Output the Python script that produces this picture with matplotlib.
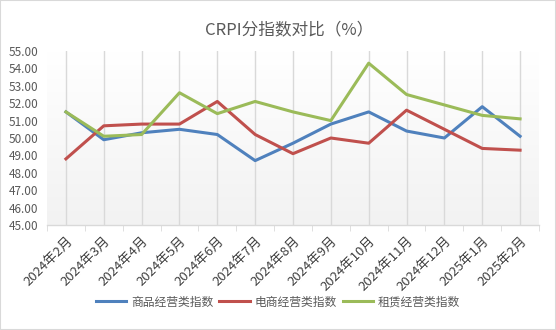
import matplotlib
matplotlib.use("Agg")
import matplotlib.pyplot as plt
import numpy as np
from matplotlib.patches import Rectangle

plt.rcParams['font.family'] = ['Noto Sans CJK SC', 'DejaVu Sans']

months = ["2024年2月", "2024年3月", "2024年4月", "2024年5月", "2024年6月", "2024年7月",
          "2024年8月", "2024年9月", "2024年10月", "2024年11月", "2024年12月",
          "2025年1月", "2025年2月"]
goods = [51.5, 49.9, 50.3, 50.5, 50.2, 48.7, 49.7, 50.8, 51.5, 50.4, 50.0, 51.8, 50.1]
ecom = [48.8, 50.7, 50.8, 50.8, 52.1, 50.2, 49.1, 50.0, 49.7, 51.6, 50.5, 49.4, 49.3]
lease = [51.5, 50.1, 50.2, 52.6, 51.4, 52.1, 51.5, 51.0, 54.3, 52.5, 51.9, 51.3, 51.1]

fig = plt.figure(figsize=(5.56, 3.3), dpi=100)
ax = fig.add_axes([47/556, 1-225/330, 492/556, 174/330])
fig.patches.append(Rectangle((0, 0), 1, 1, transform=fig.transFigure,
                             fill=False, edgecolor='#d9d9d9', lw=1.5))

x = np.arange(len(months))
ax.set_xlim(-0.5, len(months) - 0.5)
ax.set_ylim(45, 55)

# gradient background
grad = np.linspace(0, 1, 100).reshape(-1, 1)
ax.imshow(grad, cmap=matplotlib.colors.LinearSegmentedColormap.from_list('g', ['#f2f2f2', '#ffffff']),
          extent=[-0.5, len(months) - 0.5, 45, 55], origin='lower', aspect='auto', zorder=0)

for xi in x:
    ax.axvline(xi, color='#d9d9d9', lw=1, zorder=1)

ax.plot(x, goods, color='#4f81bd', lw=2.2, label='商品经营类指数', zorder=3)
ax.plot(x, ecom, color='#c0504d', lw=2.2, label='电商经营类指数', zorder=3)
ax.plot(x, lease, color='#9bbb59', lw=2.2, label='租赁经营类指数', zorder=3)

for s in ['top', 'right', 'left']:
    ax.spines[s].set_visible(False)
ax.spines['bottom'].set_color('#d9d9d9')
ax.spines['bottom'].set_linewidth(1)

ax.set_yticks(np.arange(45, 55.5, 1))
ax.set_yticklabels(["%.2f" % v for v in np.arange(45, 55.5, 1)], fontsize=8.5, color='#595959')
ax.tick_params(axis='y', length=0, pad=6)

ax.set_xticks(x)
ax.set_xticklabels(months, rotation=45, ha='right', rotation_mode='anchor',
                   fontsize=9.5, color='#404040')
ax.tick_params(axis='x', length=0, pad=7)
ax.set_xticks(np.arange(-0.5, len(months), 1), minor=True)
ax.tick_params(axis='x', which='minor', length=4, color='#d9d9d9', direction='out')

fig.text(0.52, 1-30/330, 'CRPI分指数对比（%）', ha='center', va='center',
         fontsize=12, color='#595959')

fig.legend(loc='center', bbox_to_anchor=(0.5, 1-302/330), ncol=3, frameon=False,
           fontsize=8.5, handlelength=2.6, columnspacing=0.5, handletextpad=0.4,
           labelcolor='#595959')

fig.savefig('out.png', dpi=100)
